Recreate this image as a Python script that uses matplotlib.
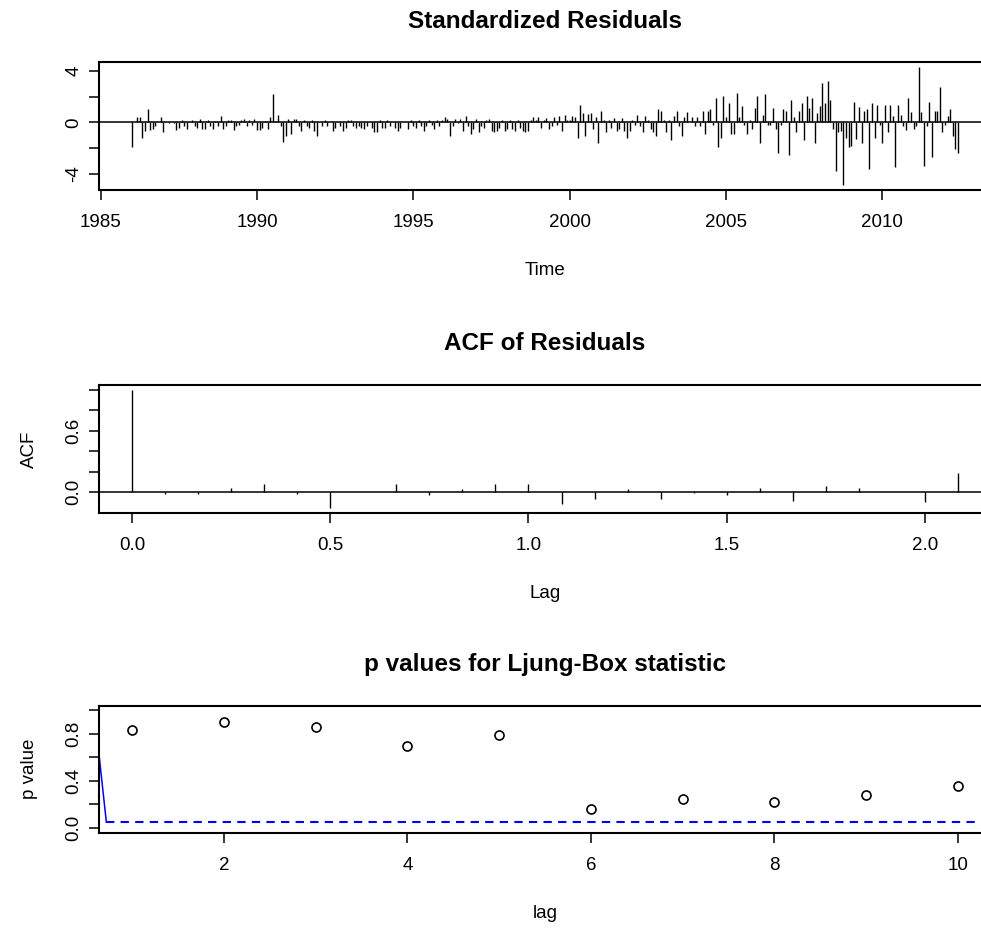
import numpy as np
import matplotlib
matplotlib.use("Agg")
import matplotlib.pyplot as plt

plt.rcParams['font.family'] = ['Liberation Sans', 'DejaVu Sans']

# ---------------- data ----------------
start_year = 1986.0
freq = 12

resid_1986_1990 = [-1.95, 0.05, 0.4, 0.45, -1.2, -0.7, 1.05, -0.6, -0.5, -0.3,
                   0.05, 0.45, -0.75, 0.02, -0.03, 0.02, -0.02, -0.6, -0.45, 0.15,
                   -0.3, -0.5, 0.05, 0.15, -0.3, -0.45, 0.28, -0.55, -0.5, 0.15,
                   -0.3, -0.5, 0.1, -0.25, 0.46, -0.55, -0.3, 0.15, 0.15, -0.6,
                   -0.3, -0.2, 0.15, 0.28, -0.3, 0.2, -0.2, 0.28, -0.6, -0.6,
                   -0.45, 0.1]
resid_1990_1994 = [-0.5, 0.4, 2.2, 0.1, 0.6, -0.3, -1.5, -1.08, 0.28, -0.92,
                   0.28, 0.28, -0.25, -0.64, 0.15, -0.25, -0.4, 0.15, -0.64, -1.08,
                   0.05, -0.3, 0.15, -0.25, 0.03, -0.64, -0.4, 0.05, -0.3, -0.64,
                   -0.45, 0.15, 0.15, -0.3, -0.45, -0.3, -0.45, -0.5, -0.3, 0.05,
                   -0.4, -0.77, -0.77, 0.15, -0.4, -0.4, 0.15, -0.25, 0.05, -0.4,
                   -0.64, -0.45, 0.05]
resid_1994_1999 = [0.03, -0.5, 0.15, -0.25, -0.4, 0.15, -0.3, -0.64, -0.3, 0.15,
                   -0.2, -0.5, 0.15, -0.3, 0.2, 0.4, 0.28, -1.08, -0.25, 0.28,
                   -0.05, 0.28, -0.64, 0.46, -0.3, -0.92, -0.5, 0.28, -0.77, -0.25,
                   -0.4, 0.15, 0.28, -0.64, -0.77, -0.64, -0.4, 0.15, -0.64, -0.5,
                   0.15, -0.55, -0.64, 0.15, -0.4, -0.64, -0.77, -0.64, 0.15, 0.4,
                   0.15, 0.4, -0.45, 0.15]
resid_1999_2003 = [0.3, -0.5, -0.3, 0.4, -0.2, 0.46, -0.64, 0.6, 0.2, 0.15,
                   0.5, 0.4, -1.23, 1.33, 0.72, -1.08, 0.67, 0.72, -0.5, 0.4,
                   -1.64, 0.85, 0.15, -0.77, 0.15, -0.4, 0.3, -0.64, -0.5, 0.3,
                   -0.64, -1.23, -0.64, 0.15, -0.2, 0.6, -0.3,
                   -0.77, 0.46, 0.15, -0.5, -0.77, -1.08, 1.03, 0.85, 0.15,
                   -0.77, 0.15, -1.38, 0.46, 0.85, -0.3, -1.08, 0.4]
resid_2003_2008 = [0.77, 0.05, 0.4, -0.3, 0.4, -0.3, 0.9, -0.92, 0.9, 1.03,
                   -0.2, 1.87, -1.95, -1.23, 2.05, 0.4, 1.49, -0.92, -0.92, 2.3,
                   0.4, 1.3, -0.2, -0.92, 0.15, -0.5, 1.15, 2.05, -1.64, 0.6,
                   2.18, -0.2, -0.2, 1.15, -0.5, -2.36, -0.2, 1.03, 0.85, -2.5,
                   1.74, 0.4, -0.77, 0.85, 1.49, -1.38, 2.05, 1.15, 1.87, -1.64,
                   0.72, 1.3, 3.03, 1.49]
resid_2008_2012 = [3.2, 1.74, -0.5, -3.77, -0.77, -0.7, -4.85, -1.2, -1.95, -1.8,
                   1.6, -1.33, 1.18, -1.64, 0.85, 1.03, -3.64, 1.49, -1.2, 1.33,
                   -0.2, -1.64, 1.33, -0.77, 1.33, 0.46, -3.5, 1.33, 0.6, -0.3,
                   -0.6, 1.9, 0.77, -0.5, -0.3, 4.3, 0.77, -3.38, -0.3, 1.6,
                   -2.67, 0.9, 0.9, 2.77, -0.77, -0.2, 0.46, 1.03, -1.08, -2.05,
                   -2.36]

std_resid = np.array(resid_1986_1990 + resid_1990_1994 + resid_1994_1999 +
                     resid_1999_2003 + resid_2003_2008 + resid_2008_2012)
time_index = start_year + np.arange(len(std_resid)) / freq
year_ticks = [1985, 1990, 1995, 2000, 2005, 2010]
resid_yticks = [-4, -2, 0, 2, 4]
resid_ylabels = ['-4', '', '0', '', '4']

acf_lag_months = np.arange(26)
acf_values = [1.0, -0.02, -0.02, 0.04, 0.075, -0.02, -0.156, 0.005, 0.075, -0.03,
              0.025, 0.075, 0.075, -0.12, -0.065, 0.025, -0.065, -0.005, -0.03, 0.04,
              -0.085, 0.055, 0.04, 0.005, -0.10, 0.185]
acf_xticks = [0.0, 0.5, 1.0, 1.5, 2.0]
acf_xlabels = ['0.0', '0.5', '1.0', '1.5', '2.0']
acf_yticks = [0.0, 0.2, 0.4, 0.6, 0.8, 1.0]
acf_ylabels = ['0.0', '', '', '0.6', '', '']

lb_lags = list(range(1, 11))
lb_pvalues = [0.837, 0.903, 0.857, 0.695, 0.792, 0.164, 0.247, 0.218, 0.278, 0.360]
lb_xticks = [2, 4, 6, 8, 10]
lb_yticks = [0.0, 0.2, 0.4, 0.6, 0.8, 1.0]
lb_ylabels = ['0.0', '', '0.4', '', '0.8', '']
sig_level = 0.05
blue_seg_x = [0.64, 0.72]
blue_seg_y = [0.625, 0.05]

# ---------------- layout ----------------
W, H = 981, 932
DPI = 100
PX = 72.0 / DPI
fig = plt.figure(figsize=(W / DPI, H / DPI), dpi=DPI)
fig.patch.set_facecolor('white')

LABEL_FS = 13.5
TITLE_FS = 17.5


def panel(top, bottom, left=99, right=991):
    return fig.add_axes([left / W, 1 - bottom / H, (right - left) / W, (bottom - top) / H])


def rpad(lo, hi, f=0.04):
    d = (hi - lo) * f
    return lo - d, hi + d


def style(ax, title, xlabel, ylabel):
    for s in ax.spines.values():
        s.set_linewidth(1.5)
    ax.tick_params(direction='out', length=10 * PX, width=1.1, labelsize=LABEL_FS)
    ax.tick_params(axis='x', pad=23 * PX)
    ax.tick_params(axis='y', pad=15 * PX)
    for lab in ax.get_xticklabels():
        lab.set_va('center')
    for lab in ax.get_yticklabels():
        lab.set_rotation(90)
        lab.set_ha('center')
        lab.set_va('center')
    ax.annotate(title, xy=(0.5, 1), xycoords='axes fraction', xytext=(0, 41 * PX),
                textcoords='offset points', ha='center', va='center',
                fontsize=TITLE_FS, fontweight='bold')
    ax.annotate(xlabel, xy=(0.5, 0), xycoords='axes fraction', xytext=(0, -81 * PX),
                textcoords='offset points', ha='center', va='center', fontsize=LABEL_FS)
    if ylabel:
        ax.annotate(ylabel, xy=(0, 0.5), xycoords='axes fraction', xytext=(-70 * PX, 0),
                    textcoords='offset points', ha='center', va='center',
                    rotation=90, fontsize=LABEL_FS)


# Panel 1: standardized residuals
ax1 = panel(62.3, 189.5)
ax1.vlines(time_index, 0, std_resid, colors='black', lw=1.0)
ax1.axhline(0, color='black', lw=1.1)
ax1.set_xlim(*rpad(time_index[0], time_index[-1]))
ax1.set_ylim(*rpad(std_resid.min(), std_resid.max()))
ax1.set_xticks(year_ticks, [str(y) for y in year_ticks])
ax1.set_yticks(resid_yticks, resid_ylabels)
style(ax1, 'Standardized Residuals', 'Time', None)

# Panel 2: ACF
ax2 = panel(385, 512.7)
acf_lags = acf_lag_months / freq
ax2.vlines(acf_lags, 0, acf_values, colors='black', lw=1.0)
ax2.axhline(0, color='black', lw=1.1)
ax2.set_xlim(*rpad(acf_lags[0], acf_lags[-1]))
ax2.set_ylim(*rpad(min(acf_values), max(acf_values)))
ax2.set_xticks(acf_xticks, acf_xlabels)
ax2.set_yticks(acf_yticks, acf_ylabels)
style(ax2, 'ACF of Residuals', 'Lag', 'ACF')

# Panel 3: Ljung-Box p-values
ax3 = panel(705.7, 832.7)
ax3.plot(lb_lags, lb_pvalues, 'o', mfc='none', mec='black', ms=6.5, mew=1.2)
xl = rpad(lb_lags[0], lb_lags[-1])
ax3.set_xlim(*xl)
ax3.set_ylim(*rpad(0, 1))
ax3.plot(blue_seg_x, blue_seg_y, color='blue', lw=1.1)
ax3.plot([blue_seg_x[-1], xl[1]], [sig_level, sig_level], color='blue', lw=1.5,
         linestyle=(0, (4, 3)))
ax3.set_xticks(lb_xticks, [str(v) for v in lb_xticks])
ax3.set_yticks(lb_yticks, lb_ylabels)
style(ax3, 'p values for Ljung-Box statistic', 'lag', 'p value')

fig.savefig('out.png', dpi=DPI)
